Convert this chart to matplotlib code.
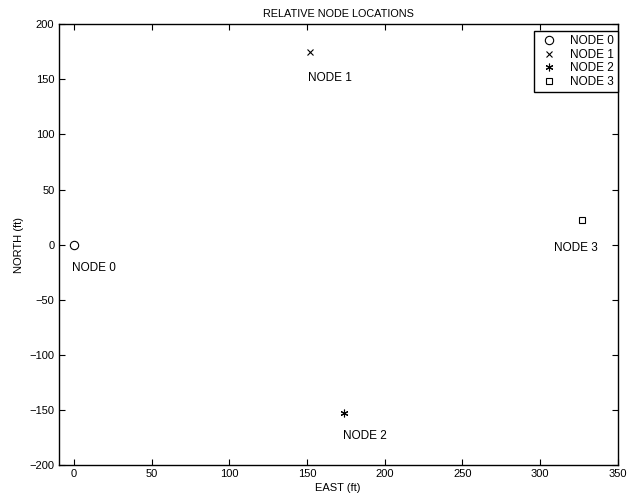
import matplotlib
matplotlib.use("Agg")
import matplotlib.pyplot as plt

plt.rcParams['font.family'] = ['Liberation Sans', 'DejaVu Sans']

# node positions (ft)
names = ["NODE 0", "NODE 1", "NODE 2", "NODE 3"]
east = [0, 152, 174, 327]
north = [0, 175, -153, 22]
markers = ["o", "x", (6, 2, 0), "s"]
sizes = [6, 4, 5.5, 4.5]

# where each name is written on the plot
label_east = [-1.5, 150.5, 173, 309]
label_north = [-21, 151, -174, -3.5]

fig = plt.figure(figsize=(6.36, 5.01), dpi=100)
ax = fig.add_axes([0.092, 0.072, 0.879, 0.8795])

for i in range(len(names)):
    ax.plot(east[i], north[i], linestyle="none", marker=markers[i],
            markerfacecolor="none", markeredgecolor="k",
            markersize=sizes[i], markeredgewidth=0.8, label=names[i])
    ax.text(label_east[i], label_north[i], names[i], fontsize=8.5,
            ha="left", va="center")

ax.set_xlim(-10, 350)
ax.set_ylim(-200, 200)
ax.set_xticks(range(0, 351, 50))
ax.set_yticks(range(-200, 201, 50))
ax.tick_params(direction="in", top=True, right=True, labelsize=8, length=4,
               width=0.8, pad=3)
for sp in ax.spines.values():
    sp.set_linewidth(1)

ax.set_title("RELATIVE NODE LOCATIONS", fontsize=7.8, pad=5)
ax.set_xlabel("EAST (ft)", fontsize=8, labelpad=3)
ax.set_ylabel("NORTH (ft)", fontsize=8, labelpad=4)

leg = ax.legend(loc="upper right", bbox_to_anchor=(1.0, 1 - 7 / 441),
                borderaxespad=0, fontsize=8.5, labelspacing=0.12,
                handlelength=2.0, handletextpad=0.7, borderpad=0.35,
                fancybox=False, framealpha=1, edgecolor="k")
leg.get_frame().set_linewidth(1)

plt.savefig("out.png", dpi=100)
